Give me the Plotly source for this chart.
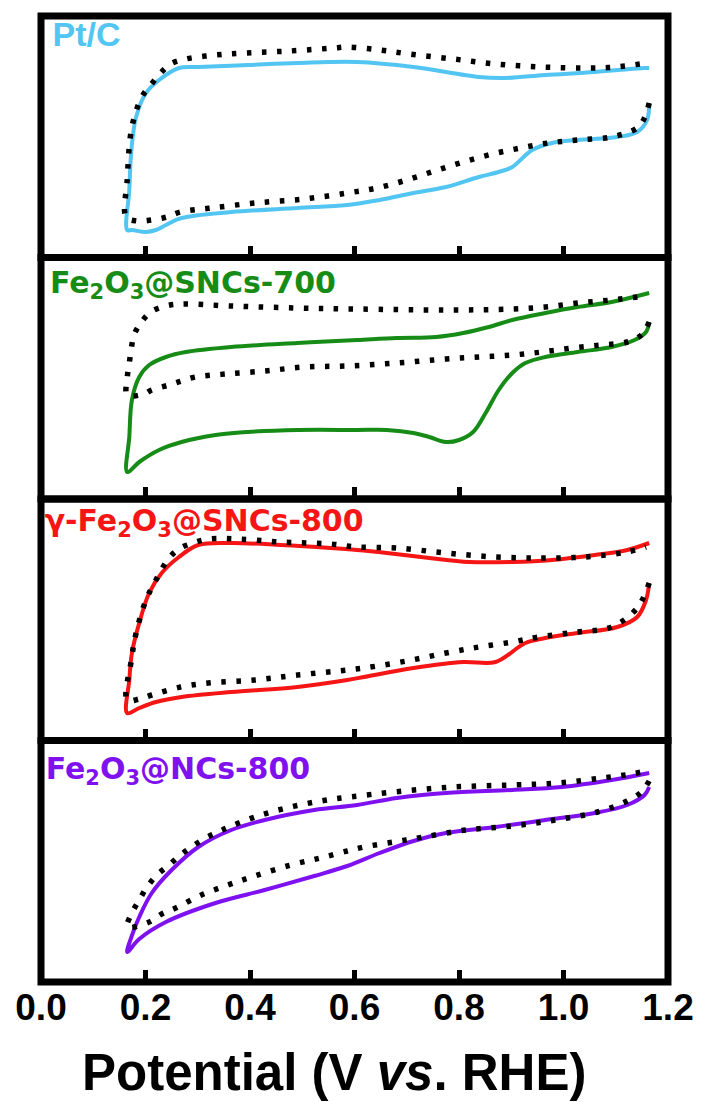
import plotly.graph_objects as go
from plotly.subplots import make_subplots

# ---------------- data (potential in V vs RHE, current in arbitrary units) ----------------
# Panel 1: Pt/C
ptc_v = [1.164, 1.160, 1.141, 1.103, 1.027, 0.978, 0.940, 0.902, 0.876, 0.838, 0.775, 0.713, 0.648, 0.586,
         0.491, 0.364, 0.269, 0.239, 0.220, 0.201, 0.174, 0.165,
         0.169, 0.173, 0.182, 0.201, 0.226, 0.264,
         0.301, 0.396, 0.491, 0.605, 0.713, 0.838, 0.889, 0.965, 1.060, 1.155, 1.164]
ptc_i = [154.5, 137.5, 125.5, 120.5, 117.5, 114.5, 107.5, 90.5, 85.5, 80.5, 70.5, 64.5, 57.5, 52.5,
         49.5, 45.5, 39.5, 32.5, 27.5, 25.5, 27.5, 27.5,
         67.5, 107.5, 140.5, 164.5, 177.5, 189.5,
         190.5, 192.5, 194.5, 195.5, 190.5, 180.5, 179.5, 182.5, 185.5, 189.5, 189.5]
ptc_ref_v = [1.164, 1.155, 1.141, 1.092, 1.027, 0.971, 0.918, 0.864, 0.808, 0.753, 0.700, 0.643, 0.586,
             0.504, 0.409, 0.326, 0.267, 0.241, 0.212, 0.184, 0.163,
             0.165, 0.174, 0.193, 0.210, 0.229, 0.248, 0.277, 0.334, 0.391, 0.476, 0.561, 0.586,
             0.648, 0.705, 0.789, 0.870, 0.959, 1.041, 1.101, 1.158]
ptc_ref_i = [154.5, 139.5, 129.5, 120.5, 117.5, 114.5, 109.5, 103.5, 95.5, 86.5, 77.5, 69.5, 64.5,
             58.5, 54.5, 49.5, 45.5, 40.5, 37.5, 36.5, 40.5,
             77.5, 130.5, 160.5, 172.5, 184.5, 193.5, 198.5, 202.5, 204.5, 206.5, 209.5, 210.5,
             207.5, 203.5, 198.5, 193.5, 190.5, 189.5, 190.5, 194.5]

# Panel 2: Fe2O3@SNCs-700
s700_v = [1.164, 1.158, 1.136, 1.092, 1.027, 0.965, 0.927, 0.902, 0.876, 0.851, 0.827, 0.800, 0.775,
          0.743, 0.713, 0.662, 0.605, 0.491, 0.396, 0.334, 0.269, 0.226, 0.188, 0.165,
          0.169, 0.174, 0.188, 0.207, 0.239, 0.277, 0.364, 0.491, 0.605, 0.681, 0.756, 0.808,
          0.857, 0.902, 0.965, 1.027, 1.092, 1.164]
s700_i = [177, 167, 159, 152, 147, 142, 136, 126, 109, 86, 67, 59, 57,
          62, 66, 69, 69, 69, 67, 64, 57, 49, 37, 27,
          62, 99, 122, 134, 142, 147, 152, 156, 159, 161, 162, 166,
          172, 179, 186, 192, 197, 206]
s700_ref_v = [1.164, 1.149, 1.122, 1.073, 1.016, 0.959, 0.902, 0.838, 0.775, 0.681, 0.586, 0.504,
              0.428, 0.353, 0.296, 0.269, 0.245, 0.212, 0.197, 0.165,
              0.165, 0.169, 0.173, 0.178, 0.191, 0.210, 0.239, 0.269, 0.364, 0.491, 0.605, 0.775,
              0.902, 0.965, 1.027, 1.092, 1.158]
s700_ref_i = [177, 164, 157, 154, 151, 147, 144, 142, 140, 136, 133, 132,
              128, 125, 122, 118, 114, 109, 105, 104,
              121, 136, 151, 164, 176, 187, 193, 195, 193, 191, 190, 189,
              190, 192, 196, 199, 203]

# Panel 3: gamma-Fe2O3@SNCs-800
s800_v = [1.164, 1.158, 1.141, 1.103, 1.027, 0.965, 0.927, 0.870, 0.808, 0.713, 0.618, 0.586, 0.491,
          0.364, 0.269, 0.220, 0.188, 0.165,
          0.169, 0.174, 0.188, 0.207, 0.231, 0.264, 0.301, 0.364, 0.459, 0.554, 0.605, 0.662,
          0.743, 0.819, 0.902, 0.978, 1.060, 1.122, 1.164]
s800_i = [157.5, 140.5, 123.5, 113.5, 107.5, 102.5, 97.5, 78.5, 78.5, 72.5, 63.5, 60.5, 53.5,
          48.5, 43.5, 38.5, 32.5, 27.5,
          60.5, 87.5, 117.5, 147.5, 167.5, 183.5, 195.5, 197.5, 195.5, 192.5, 190.5, 187.5,
          182.5, 178.5, 178.5, 180.5, 185.5, 190.5, 197.5]
s800_ref_v = [1.164, 1.141, 1.092, 1.027, 0.952, 0.902, 0.838, 0.775, 0.700, 0.618, 0.586, 0.491,
              0.409, 0.320, 0.267, 0.212, 0.188, 0.165,
              0.173, 0.182, 0.201, 0.220, 0.245, 0.267, 0.292, 0.320, 0.377, 0.459, 0.554, 0.605,
              0.681, 0.775, 0.870, 0.959, 1.041, 1.122, 1.158]
s800_ref_i = [157.5, 132.5, 113.5, 108.5, 103.5, 98.5, 93.5, 87.5, 79.5, 72.5, 70.5, 65.5,
              60.5, 57.5, 53.5, 45.5, 41.5, 40.5,
              80.5, 107.5, 140.5, 160.5, 182.5, 192.5, 197.5, 201.5, 201.5, 198.5, 196.5, 193.5,
              192.5, 187.5, 183.5, 182.5, 183.5, 188.5, 193.5]

# Panel 4: Fe2O3@NCs-800
n800_v = [1.164, 1.155, 1.122, 1.060, 0.965, 0.870, 0.775, 0.713, 0.648, 0.586, 0.523, 0.428, 0.334,
          0.239, 0.188, 0.165,
          0.173, 0.188, 0.212, 0.250, 0.301, 0.364, 0.428, 0.523, 0.605, 0.681, 0.775, 0.902,
          0.997, 1.092, 1.164]
n800_i = [195, 187, 177, 169, 162, 155, 149, 141, 129, 116, 106, 92, 79,
          60, 43, 30,
          45, 65, 89, 112, 135, 152, 162, 172, 177, 184, 189, 192,
          195, 202, 209]
n800_ref_v = [1.164, 1.149, 1.122, 1.065, 0.984, 0.902, 0.813, 0.732, 0.675, 0.618, 0.586, 0.535,
              0.478, 0.409, 0.358, 0.307, 0.258, 0.231, 0.207, 0.165,
              0.174, 0.188, 0.203, 0.222, 0.245, 0.267, 0.288, 0.315, 0.339, 0.364, 0.421, 0.478,
              0.535, 0.591, 0.675, 0.789, 0.902, 0.990, 1.073, 1.130, 1.158]
n800_ref_i = [201, 190, 181, 170, 162, 156, 152, 145, 140, 135, 131, 124,
              117, 106, 97, 87, 74, 68, 60, 55,
              69, 82, 95, 107, 117, 127, 135, 144, 150, 156, 167, 175,
              181, 185, 190, 195, 197, 199, 204, 208, 211]

labels = ["Pt/C", "Fe<sub>2</sub>O<sub>3</sub>@SNCs-700",
          "\u03b3-Fe<sub>2</sub>O<sub>3</sub>@SNCs-800", "Fe<sub>2</sub>O<sub>3</sub>@NCs-800"]
label_v = [0.022, 0.017, 0.007, 0.009]          # label anchor (potential)
label_i = [220, 214, 217, 211]                  # label anchor (current, a.u.)
label_font = ["Liberation Sans", "DejaVu Sans", "DejaVu Sans", "DejaVu Sans"]
label_size = [34, 30, 30, 30]
colors = ["#52C5F2", "#168C16", "#F51515", "#7F11F0"]
x_title = "Potential (V <i>vs</i>. RHE)"

series = [(ptc_v, ptc_i, ptc_ref_v, ptc_ref_i),
          (s700_v, s700_i, s700_ref_v, s700_ref_i),
          (s800_v, s800_i, s800_ref_v, s800_ref_i),
          (n800_v, n800_i, n800_ref_v, n800_ref_i)]

# ---------------- figure ----------------
W, H = 706, 1102
ML, MR, MT, MB = 41, 32, 16, 120
fig = make_subplots(rows=4, cols=1, shared_xaxes=True, vertical_spacing=0)

for r, (v, i, rv, ri) in enumerate(series, start=1):
    fig.add_trace(go.Scatter(x=v, y=i, mode="lines",
                             line=dict(color=colors[r - 1], width=4, shape="spline"),
                             showlegend=False, hoverinfo="skip"), row=r, col=1)
    fig.add_trace(go.Scatter(x=rv, y=ri, mode="lines",
                             line=dict(color="black", width=5.5, dash="4.5px,10.5px", shape="spline"),
                             showlegend=False, hoverinfo="skip"), row=r, col=1)
    fig.add_trace(go.Scatter(x=[label_v[r - 1]], y=[label_i[r - 1]], mode="text",
                             text=[labels[r - 1]], textposition="middle right", cliponaxis=False,
                             textfont=dict(family=label_font[r - 1], size=label_size[r - 1],
                                           color=colors[r - 1], weight="bold"),
                             showlegend=False, hoverinfo="skip"), row=r, col=1)
    xs = "" if r == 1 else str(r)
    fig.add_shape(type="rect", xref=f"x{xs} domain", yref=f"y{xs} domain",
                  x0=0, x1=1, y0=0, y1=1, line=dict(color="black", width=7), layer="above")

for r in range(1, 5):
    fig.update_xaxes(range=[0, 1.2], ticks="inside", ticklen=12, tickwidth=5, tickcolor="black",
                     showline=False, showgrid=False, zeroline=False, tickformat=".1f",
                     tickfont=dict(size=37, weight="bold", family="Liberation Sans"),
                     row=r, col=1)
fig.update_yaxes(range=[0, 241.5], showticklabels=False, ticks="", showgrid=False, zeroline=False)

PW, PH = W - ML - MR, H - MT - MB
fig.add_annotation(text=x_title, xref="paper", yref="paper", x=(337 - ML) / PW,
                   y=(H - MB - 1072) / PH, xanchor="center", yanchor="middle", showarrow=False,
                   font=dict(family="Liberation Sans", size=51, color="black", weight="bold"))

fig.update_layout(width=W, height=H, margin=dict(l=ML, r=MR, t=MT, b=MB, pad=0),
                  font=dict(color="black"),
                  plot_bgcolor="white", paper_bgcolor="white", showlegend=False)

fig.write_html("out.html")
